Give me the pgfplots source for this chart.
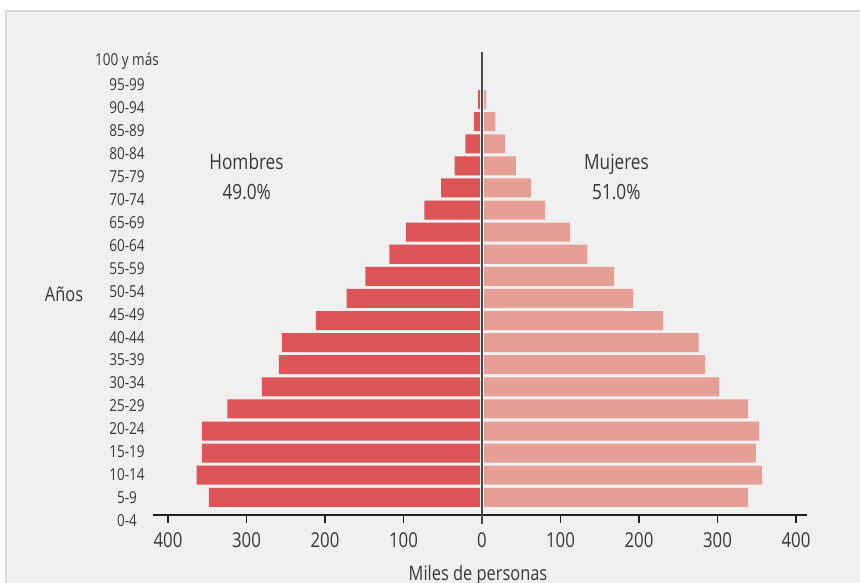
\documentclass[border=0pt]{standalone}
\usepackage{fontspec}
\setmainfont{Open Sans}[FakeStretch=0.82]
\usepackage{pgfplots}
\usepackage{pgfplotstable}
\pgfplotsset{compat=1.18}

\definecolor{hombre}{HTML}{DC5456}
\definecolor{mujer}{HTML}{E59F94}
\definecolor{fondo}{HTML}{EFF0EF}
\definecolor{borde}{HTML}{D9DBD9}
\definecolor{texto}{HTML}{383838}
\definecolor{eje}{HTML}{222222}
\definecolor{centro}{HTML}{4A4A4A}

% posicion de la barra, hombres (negativo), mujeres -- miles de personas
\pgfplotstableread{
y     hombres  mujeres
0.80  -347.8   338.9
1.80  -363.4   356.7
2.80  -356.7   349.0
3.80  -356.7   352.9
4.80  -324.5   338.9
5.80  -280.3   301.9
6.80  -258.6   284.1
7.80  -254.8   276.0
8.80  -211.5   230.6
9.80  -172.4   192.4
10.80 -148.7   168.2
11.80 -118.1   133.8
12.80 -96.8    112.1
13.80 -73.5    80.3
14.80 -52.2    62.4
15.80 -34.8    43.3
16.80 -21.2    29.3
17.80 -10.2    17.0
18.80 -5.1     5.1
}\piramide

\begin{document}
\begin{tikzpicture}[x=1pt,y=1pt]
  \useasboundingbox (0,0) rectangle (860,582);
  \fill[fondo] (6,-30) rectangle (880,571);
  \draw[borde,line width=1.5pt] (6,-30) -- (6,571) -- (880,571);

  \begin{axis}[
      at={(482pt,67pt)}, anchor=origin,
      scale only axis,
      width=653.4pt, height=472pt,
      xmin=-418.7, xmax=413.6,
      ymin=-0.41, ymax=20.95,
      axis x line=middle,
      axis y line=left,
      x axis line style={-, eje, line width=1.8pt},
      y axis line style={draw=none},
      xtick={-400,-300,...,400},
      xticklabels={400,300,200,100,0,100,200,300,400},
      xtick align=outside,
      major tick length=8pt,
      xtick style={eje, line width=1.8pt},
      xticklabel style={font=\fontsize{20.5}{22}\selectfont, text=texto, anchor=center, yshift=-17pt},
      ytick={-0.27,0.77,1.81,2.85,3.89,4.93,5.97,7.01,8.05,9.09,10.13,11.17,12.21,13.25,14.29,15.33,16.37,17.41,18.45,19.49,20.54},
      yticklabels={0-4,5-9,10-14,15-19,20-24,25-29,30-34,35-39,40-44,45-49,50-54,55-59,60-64,65-69,70-74,75-79,80-84,85-89,90-94,95-99,100 y más},
      ytick style={draw=none},
      yticklabel style={font=\fontsize{16.5}{18}\selectfont, text=texto, anchor=center, xshift=-22.3pt},
      /pgf/number format/assume math mode=true,
      clip=false,
    ]
    \addplot[xbar, bar shift=0pt, bar width=0.86, fill=hombre, draw=none]
      table[x=hombres, y=y] {\piramide};
    \addplot[xbar, bar shift=0pt, bar width=0.86, fill=mujer, draw=none]
      table[x=mujeres, y=y] {\piramide};
    \draw[fondo, line width=4pt] (axis cs:0,0.3) -- (axis cs:0,20.95);
    \draw[centro, line width=1.8pt] (axis cs:0,-0.41) -- (axis cs:0,20.95);
  \end{axis}

  \begin{scope}[every node/.style={text=texto, inner sep=0pt, anchor=base}]
    \node[font=\fontsize{21}{24}\selectfont] at (246.5,412.7) {Hombres};
    \node[font=\fontsize{21}{24}\selectfont] at (246.7,382.7) {49.0\%};
    \node[font=\fontsize{21}{24}\selectfont] at (616.5,412.7) {Mujeres};
    \node[font=\fontsize{21}{24}\selectfont] at (616.3,382.7) {51.0\%};
    \node[font=\fontsize{20}{24}\selectfont] at (64,280) {Años};
    \node[font=\fontsize{20}{24}\selectfont, anchor=north] at (478,17) {Miles de personas};
  \end{scope}
\end{tikzpicture}
\end{document}
